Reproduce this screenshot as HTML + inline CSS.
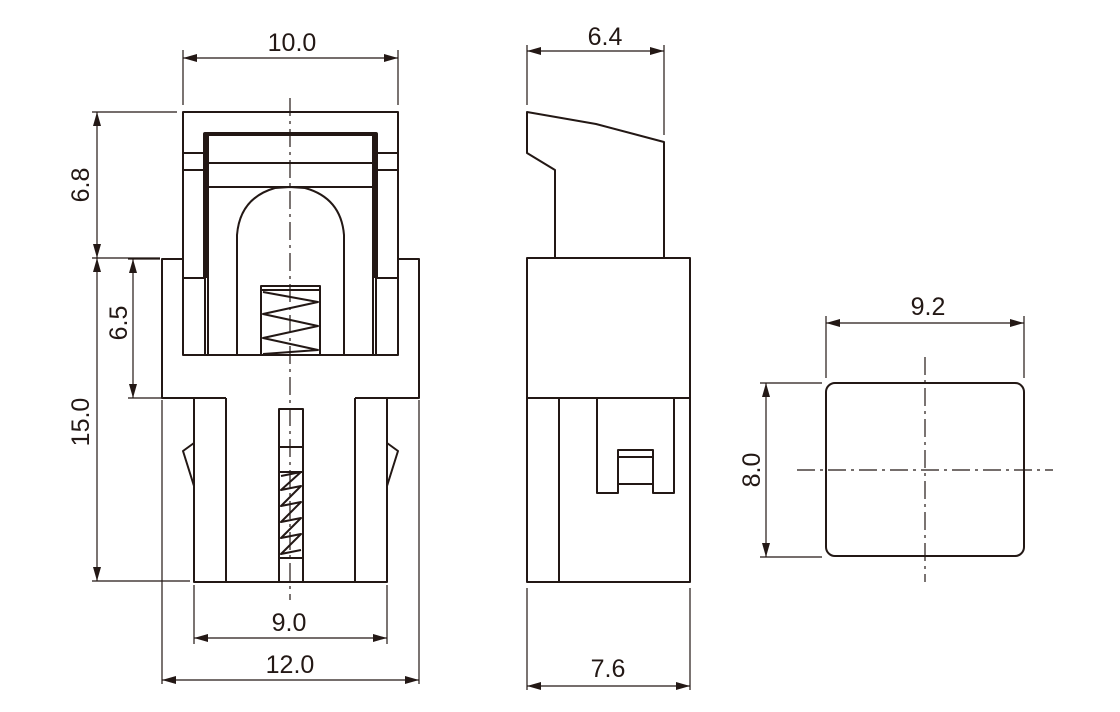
<!DOCTYPE html>
<html><head><meta charset="utf-8"><style>
html,body{margin:0;padding:0;background:#fff;}
svg{display:block;}
text{font-family:"Liberation Sans",Arial,sans-serif;font-size:25px;fill:#231815;}
</style></head><body>
<svg width="1120" height="712" viewBox="0 0 1120 712" xmlns="http://www.w3.org/2000/svg">
<defs>
<marker id="a" markerWidth="14" markerHeight="8" refX="14" refY="4" orient="auto-start-reverse" markerUnits="userSpaceOnUse">
<path d="M0,0 L14,4 L0,8 Z" fill="#231815"/></marker>
</defs>
<g stroke="#231815" fill="none" stroke-width="2" stroke-linejoin="round">
<!-- FRONT VIEW -->
<rect x="183" y="112" width="215" height="243"/>
<path d="M205,278 V134 H376 V278" stroke-width="4"/>
<path d="M183,153 H205 M183,170 H205 M376,153 H398 M376,170 H398"/>
<path d="M205,163 H376 M208,187 H373"/>
<path d="M208,134 V355 M373,134 V355"/>
<path d="M183,278 H205 M376,278 H398 M205,278 V355 M376,278 V355"/>
<path d="M237,355 V235 Q240,198 275,188 L290,187 L305,188 Q341,198 344,235 V355"/>
<rect x="261" y="286" width="59" height="69"/>
<path d="M261,290 H320 M263,292 L318,302 L263,314 L318,326 L263,338 L318,350 L263,354"/>
<path d="M194,398 H162 V259 H183 M398,259 H419 V398 H387"/>
<path d="M194,398 V582 H387 V398 M226,398 V582 M355,398 V582 M226,398 M355,398 H387"/>
<path d="M194,398 H226"/>
<rect x="279" y="409" width="24" height="173"/>
<path d="M279,447 H303 M279,472 H303 M279,558 H303"/>
<path d="M281,476 L301,472 L281,490 L301,486 L281,506 L301,502 L281,522 L301,518 L281,538 L301,534 L281,554 L301,550"/>
<path d="M194,443 L183,451 L194,486 M387,443 L398,451 L387,486"/>
<!-- SIDE VIEW -->
<path d="M555,258 V170 L527,153 V112 L596,124 L664,142 V258"/>
<rect x="527" y="258" width="163" height="324"/>
<path d="M527,398 H690 M559,398 V582"/>
<path d="M597,398 V493 H618 V450 H653 V493 H674 V398"/>
<path d="M618,457 H653 M618,484 H653"/>
<!-- RIGHT VIEW -->
<rect x="826" y="383" width="198" height="173" rx="9"/>
</g>
<!-- center lines -->
<g stroke="#231815" stroke-width="1.2" fill="none" stroke-dasharray="18,5,3,5">
<path d="M290,98 V600"/>
<path d="M925,357 V582"/>
<path d="M797,470 H1053"/>
</g>
<!-- dimension & extension lines -->
<g stroke="#231815" stroke-width="1.2" fill="none">
<path d="M183,50 V105 M398,50 V105"/>
<path d="M92,112 H177 M92,258 H160 M92,581 H190"/>
<path d="M128,259 H160 M128,398 H187"/>
<path d="M162,400 V684 M419,400 V684 M194,585 V644 M387,585 V644"/>
<path d="M527,45 V105 M664,45 V135 M527,588 V690 M690,588 V690"/>
<path d="M826,316 V378 M1024,316 V378 M760,383 H822 M760,557 H822"/>
<path d="M183,58 H398" marker-start="url(#a)" marker-end="url(#a)"/>
<path d="M97,112 V258" marker-start="url(#a)" marker-end="url(#a)"/>
<path d="M97,258 V581" marker-start="url(#a)" marker-end="url(#a)"/>
<path d="M133,259 V398" marker-start="url(#a)" marker-end="url(#a)"/>
<path d="M194,638 H387" marker-start="url(#a)" marker-end="url(#a)"/>
<path d="M162,680 H419" marker-start="url(#a)" marker-end="url(#a)"/>
<path d="M527,51 H664" marker-start="url(#a)" marker-end="url(#a)"/>
<path d="M527,686 H690" marker-start="url(#a)" marker-end="url(#a)"/>
<path d="M826,323 H1024" marker-start="url(#a)" marker-end="url(#a)"/>
<path d="M766,383 V557" marker-start="url(#a)" marker-end="url(#a)"/>
</g>
<text x="292" y="51" text-anchor="middle">10.0</text>
<text x="605" y="45" text-anchor="middle">6.4</text>
<text x="289" y="631" text-anchor="middle">9.0</text>
<text x="290" y="673" text-anchor="middle">12.0</text>
<text x="608" y="677" text-anchor="middle">7.6</text>
<text x="928" y="315" text-anchor="middle">9.2</text>
<text transform="translate(89,185) rotate(-90)" text-anchor="middle">6.8</text>
<text transform="translate(127,323) rotate(-90)" text-anchor="middle">6.5</text>
<text transform="translate(89,422) rotate(-90)" text-anchor="middle">15.0</text>
<text transform="translate(760,470) rotate(-90)" text-anchor="middle">8.0</text>
</svg>
</body></html>
